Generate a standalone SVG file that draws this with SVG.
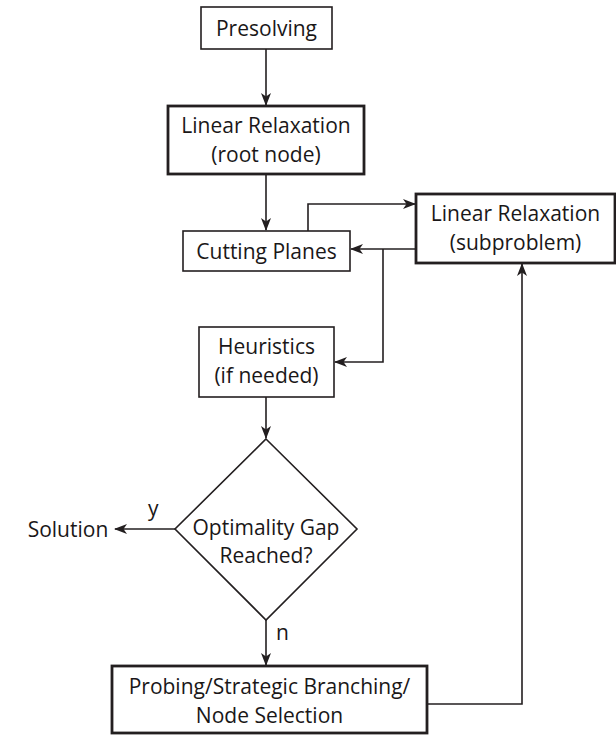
<svg xmlns="http://www.w3.org/2000/svg" width="616" height="735" viewBox="0 0 616 735">
<style>
text{font-family:"Open Sans","Noto Sans","Liberation Sans",sans-serif;font-size:21px;fill:#1a1718;text-anchor:middle}
.thin{fill:#fff;stroke:#231f20;stroke-width:1.6}
.thick{fill:#fff;stroke:#231f20;stroke-width:2.8}
.c{fill:none;stroke:#231f20;stroke-width:1.6}
.lbl{text-anchor:start}
</style>
<defs>
<marker id="ah" viewBox="0 0 13 10" refX="12" refY="5" markerWidth="13" markerHeight="10" markerUnits="userSpaceOnUse" orient="auto">
<path d="M0,0 L13,5 L0,10 L3.5,5 Z" fill="#231f20"/>
</marker>
</defs>
<g id="connectors">
<path class="c" d="M266,49 V105" marker-end="url(#ah)"/>
<path class="c" d="M266,174 V230" marker-end="url(#ah)"/>
<path class="c" d="M308,231 V204 H415" marker-end="url(#ah)"/>
<path class="c" d="M416,249 H351" marker-end="url(#ah)"/>
<path class="c" d="M383,249 V362 H335" marker-end="url(#ah)"/>
<path class="c" d="M266,397 V438" marker-end="url(#ah)"/>
<path class="c" d="M175,529 H115" marker-end="url(#ah)"/>
<path class="c" d="M266,620 V665" marker-end="url(#ah)"/>
<path class="c" d="M427,704 H522 V264" marker-end="url(#ah)"/>
</g>
<g id="presolving">
<rect class="thin" x="201" y="7" width="131" height="42"/>
<text x="266.5" y="35.5">Presolving</text>
</g>
<g id="root">
<rect class="thick" x="168" y="106" width="196" height="68"/>
<text x="266" y="132.5">Linear Relaxation</text>
<text x="266" y="161.5">(root node)</text>
</g>
<g id="cutting">
<rect class="thin" x="183" y="231" width="167" height="40"/>
<text x="266.5" y="258.5">Cutting Planes</text>
</g>
<g id="subproblem">
<rect class="thick" x="416" y="194" width="199" height="69"/>
<text x="515.5" y="220.5">Linear Relaxation</text>
<text x="515.5" y="249.5">(subproblem)</text>
</g>
<g id="heuristics">
<rect class="thin" x="199" y="327" width="135" height="70"/>
<text x="266.5" y="353.5">Heuristics</text>
<text x="266.5" y="382.5">(if needed)</text>
</g>
<g id="gap">
<path class="thin" d="M266,439 L357,529 L266,620 L175,529 Z"/>
<text x="266" y="534.5">Optimality Gap</text>
<text x="266" y="562.5">Reached?</text>
</g>
<g id="solution">
<text x="68" y="536.5">Solution</text>
</g>
<g id="labels">
<text class="lbl" x="148" y="516">y</text>
<text class="lbl" x="276" y="640">n</text>
</g>
<g id="probing">
<rect class="thick" x="112" y="666" width="315" height="67"/>
<text x="269.5" y="693.5">Probing/Strategic Branching/</text>
<text x="269.5" y="722.5">Node Selection</text>
</g>
</svg>
